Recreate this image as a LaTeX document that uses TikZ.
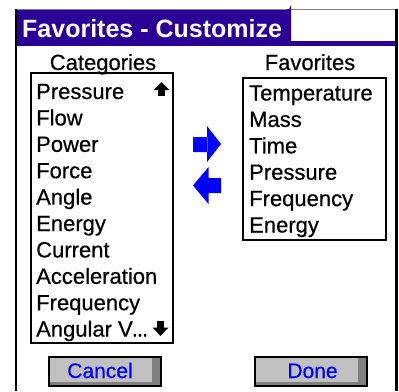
\documentclass[tikz,border=0pt]{standalone}
\usepackage{fontspec}
\setmainfont{Liberation Sans}
\newfontfamily\palmfont{Liberation Sans}[FakeBold=0.5]
\definecolor{palmpurple}{RGB}{42,0,150}
\definecolor{palmblue}{RGB}{0,0,255}
\definecolor{btngray}{RGB}{192,192,192}
\definecolor{btnshade}{RGB}{128,128,128}
\tikzset{
  item/.style={anchor=base west, inner sep=0pt, font=\palmfont\fontsize{22}{26}\selectfont},
  heading/.style={anchor=base, inner sep=0pt, font=\palmfont\fontsize{22}{26}\selectfont},
  listbox/.style={draw=black, line width=2pt, inner sep=0pt},
  button/.style={draw=black, line width=2pt, fill=btngray, inner sep=0pt,
    minimum width=112pt, minimum height=29pt},
  btntext/.style={anchor=base, inner sep=0pt, text=palmblue,
    font=\palmfont\fontsize{21}{24}\selectfont},
  blueshape/.style={fill=palmblue}
}
\begin{document}
\begin{tikzpicture}[x=1pt,y=-1pt]
\useasboundingbox (0,0) rectangle (399,391);
\fill [white] (0,0) rectangle (399,391);
% frame and title
\draw [gray,line width=1pt] (16,9.5) -- (397,9.5);
\fill [palmpurple] (17,45.5) -- (17,10) -- (286,10) arc (90:0:5) -- (291,45.5) -- cycle;
\fill [palmpurple] (17,40.5) rectangle (395,45.5);
\draw [black,line width=2pt] (16,9) -- (16,391);
\draw [black,line width=2.5pt] (396.5,9) -- (396.5,391);
\node (title) [anchor=base west, inner sep=0pt, text=white, font=\bfseries\fontsize{25}{28}\selectfont] at (22,37) {Favorites - Customize};
% categories list
\node (cathead) [heading] at (103,70) {Categories};
\node (catlist) [listbox, minimum width=142pt, minimum height=270pt] at (102,208) {};
\node (cat1) [item] at (36,99) {Pressure};
\node (cat2) [item] at (36,125.4) {Flow};
\node (cat3) [item] at (36,151.8) {Power};
\node (cat4) [item] at (36,178.2) {Force};
\node (cat5) [item] at (36,204.6) {Angle};
\node (cat6) [item] at (36,231) {Energy};
\node (cat7) [item] at (36,257.4) {Current};
\node (cat8) [item] at (36,283.8) {Acceleration};
\node (cat9) [item] at (36,310.2) {Frequency};
\node (cat10) [item] at (36,336.6) {Angular V\kern-1pt.\kern-1pt.\kern-1pt.};
% scroll arrows
\fill [black] (158,89) rectangle (165,96);
\fill [black] (153.5,90) -- (169.5,90) -- (161.5,82) -- cycle;
\fill [black] (157,321) rectangle (164,328);
\fill [black] (152.5,327.5) -- (168.5,327.5) -- (160.5,336) -- cycle;
% favorites list
\node (favhead) [heading] at (310,70) {Favorites};
\node (favlist) [listbox, minimum width=143pt, minimum height=162pt] at (314.5,159) {};
\node (fav1) [item] at (249,100.5) {Temperature};
\node (fav2) [item] at (249,126.9) {Mass};
\node (fav3) [item] at (249,153.3) {Time};
\node (fav4) [item] at (249,179.7) {Pressure};
\node (fav5) [item] at (249,206.1) {Frequency};
\node (fav6) [item] at (249,232.5) {Energy};
% add / remove arrows
\fill [blueshape] (193,137) rectangle (207.5,152) (207,126) -- (221,144) -- (207,162) -- cycle;
\fill [blueshape] (208,178) rectangle (221,193) (208.5,167) -- (193,185.5) -- (208.5,204) -- cycle;
% buttons
\node (cancel) [button] at (105,371.5) {};
\fill [btnshade] ([shift={(-10,2)}]cancel.north east) rectangle ([shift={(-2,-2)}]cancel.south east);
\fill [btnshade] ([shift={(2,-5)}]cancel.south west) rectangle ([shift={(-2,-2)}]cancel.south east);
\node (canceltext) [btntext] at (100,378) {Cancel};
\node (done) [button] at (310.5,371.5) {};
\fill [btnshade] ([shift={(-10,2)}]done.north east) rectangle ([shift={(-2,-2)}]done.south east);
\fill [btnshade] ([shift={(2,-5)}]done.south west) rectangle ([shift={(-2,-2)}]done.south east);
\node (donetext) [btntext] at (312.5,378) {Done};
\end{tikzpicture}
\end{document}
